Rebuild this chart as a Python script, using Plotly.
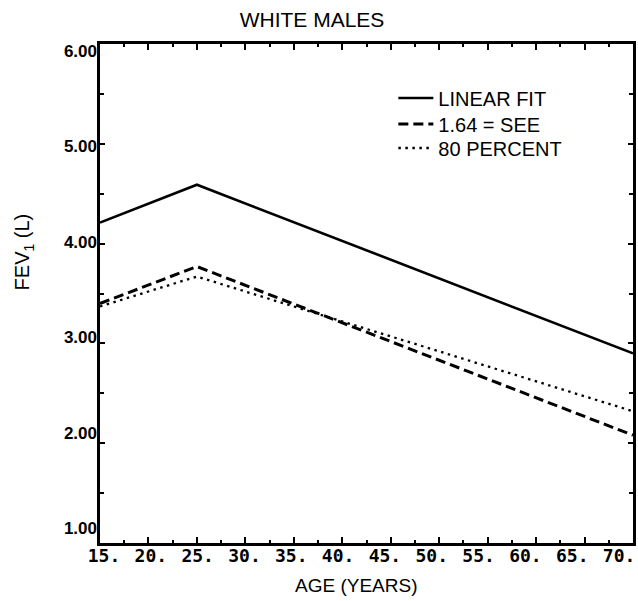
import plotly.graph_objects as go

# ---- data ----
age = [15, 25, 70]
linear_fit = [4.21, 4.59, 2.90]
see_164 = [3.40, 3.77, 2.08]
percent_80 = [3.37, 3.67, 2.32]

series_names = ["LINEAR FIT", "1.64 = SEE", "80 PERCENT"]

x_tick_vals = [15, 20, 25, 30, 35, 40, 45, 50, 55, 60, 65, 70]
x_tick_text = ["15.", "20.", "25.", "30.", "35.", "40.", "45.", "50.", "55.", "60.", "65.", "70."]
y_tick_vals = [1, 2, 3, 4, 5, 6]
y_tick_text = ["1.00", "2.00", "3.00", "4.00", "5.00", "6.00"]

title_text = "WHITE MALES"
x_title = "AGE (YEARS)"
y_title = "FEV<sub>1</sub> (L)"

# ---- figure ----
W, H = 638, 601
L, R, T, B = 100, 2, 44, 58
plot_w = W - L - R
plot_h = H - T - B

SANS = "Liberation Sans, Arial, Helvetica, sans-serif"
MONO = "DejaVu Sans Mono, Liberation Mono, monospace"

fig = go.Figure()
fig.add_trace(go.Scatter(x=age, y=linear_fit, mode="lines", name=series_names[0],
                         legend="legend",
                         line=dict(color="black", width=2.6, dash="solid")))
fig.add_trace(go.Scatter(x=age, y=see_164, mode="lines", name=series_names[1],
                         legend="legend2",
                         line=dict(color="black", width=3, dash="10px,5px")))
fig.add_trace(go.Scatter(x=age, y=percent_80, mode="lines", name=series_names[2],
                         legend="legend3",
                         line=dict(color="black", width=2.3, dash="2.5px,4.5px")))

# invisible helpers so the label-only axes get drawn
fig.add_trace(go.Scatter(x=age, y=linear_fit, xaxis="x2", yaxis="y", mode="lines",
                         line=dict(width=0), opacity=0, showlegend=False, hoverinfo="skip"))
fig.add_trace(go.Scatter(x=age, y=linear_fit, xaxis="x", yaxis="y2", mode="lines",
                         line=dict(width=0), opacity=0, showlegend=False, hoverinfo="skip"))

axis_common = dict(showgrid=False, zeroline=False, showline=True, linecolor="black",
                   linewidth=2.5, mirror="ticks", ticks="inside", tickcolor="black",
                   showticklabels=False)

legend_common = dict(x=(395 - L) / plot_w, xanchor="left", yanchor="middle",
                     bgcolor="rgba(0,0,0,0)", borderwidth=0, itemwidth=35,
                     font=dict(family=SANS, size=20, color="black"))

fig.update_layout(
    width=W, height=H,
    margin=dict(l=L, r=R, t=T, b=B, pad=0),
    paper_bgcolor="white", plot_bgcolor="white",
    font=dict(family=SANS, color="black", size=17),
    title=dict(text=title_text, x=312 / W, xref="container", xanchor="center",
               y=1 - 19.5 / H, yref="container", yanchor="middle",
               font=dict(family=SANS, size=21, color="black")),
    xaxis=dict(range=[15, 70], dtick=5, tick0=15, ticklen=6, tickwidth=2,
               minor=dict(dtick=2.5, ticklen=3, tickwidth=1.5, ticks="inside", tickcolor="black"),
               **axis_common),
    yaxis=dict(range=[1, 6], dtick=1, tick0=1, ticklen=5, tickwidth=2,
               minor=dict(dtick=0.5, ticklen=4, tickwidth=1.5, ticks="inside", tickcolor="black"),
               **axis_common),
    # label-only axes reproduce the slightly compressed label spacing of the original print
    xaxis2=dict(overlaying="x", anchor="y", side="bottom",
                range=[15 - 4 / 9.418, 15 - 4 / 9.418 + plot_w / 9.418],
                tickmode="array", tickvals=x_tick_vals, ticktext=x_tick_text,
                ticks="", showline=False, showgrid=False, zeroline=False,
                tickfont=dict(family=MONO, size=18, color="black", weight="bold")),
    yaxis2=dict(overlaying="y", anchor="x", side="left",
                range=[6 + 7 / 95.4 - plot_h / 95.4, 6 + 7 / 95.4],
                tickmode="array", tickvals=y_tick_vals, ticktext=y_tick_text,
                ticks="", showline=False, showgrid=False, zeroline=False,
                ticklabelstandoff=2,
                tickfont=dict(family=SANS, size=17, color="black", weight="bold")),
    legend=dict(y=(H - B - 98) / plot_h, **legend_common),
    legend2=dict(y=(H - B - 124) / plot_h, **legend_common),
    legend3=dict(y=(H - B - 148) / plot_h, **legend_common),
    showlegend=True,
)

fig.add_annotation(text=x_title, xref="paper", yref="paper",
                   x=(357 - L) / plot_w, y=(H - B - 585) / plot_h,
                   xanchor="center", yanchor="middle", showarrow=False,
                   font=dict(family=SANS, size=19, color="black"))
fig.add_annotation(text=y_title, xref="paper", yref="paper",
                   x=(23 - L) / plot_w, y=(H - B - 252) / plot_h,
                   xanchor="center", yanchor="middle", showarrow=False, textangle=-90,
                   font=dict(family=SANS, size=20, color="black"))

fig.write_html("out.html")
